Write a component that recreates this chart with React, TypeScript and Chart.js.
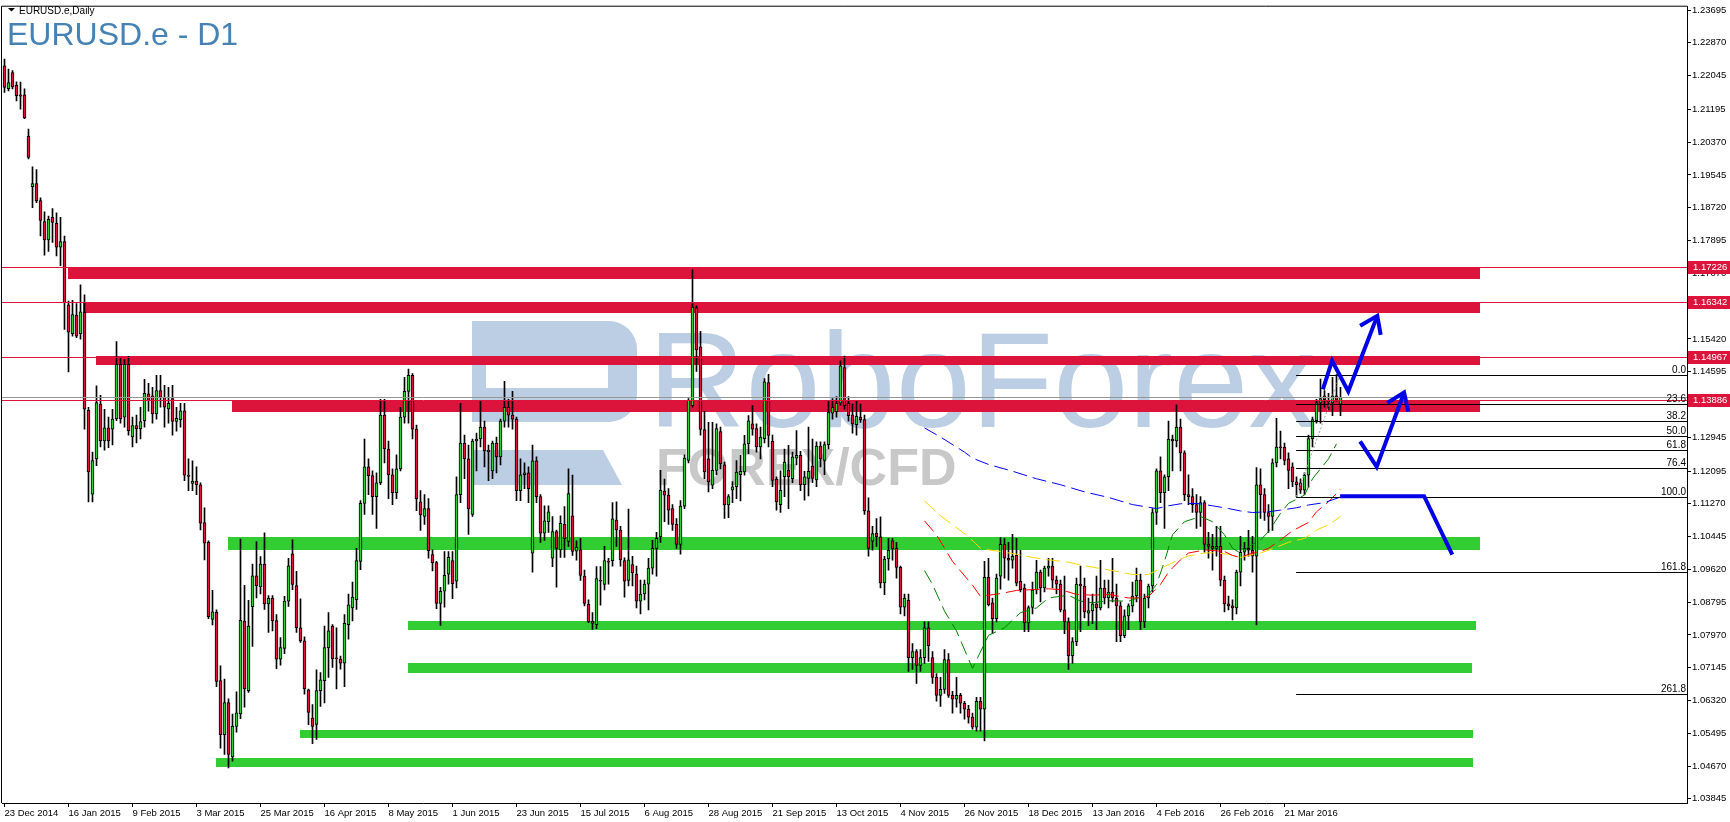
import React, { useEffect, useRef } from "react";
import { Chart, registerables } from "chart.js";
Chart.register(...registerables);

// ---------- DATA ----------
const OPEN = [
  1.2229,1.2172,1.2212,1.2180,1.2156,1.2156,1.2052,1.1925,1.1933,1.1890,
  1.1837,1.1791,1.1848,1.1833,1.1773,1.1787,1.1628,1.1555,1.1602,1.1555,
  1.1609,1.1362,1.1151,1.1240,1.1378,1.1285,1.1318,1.1315,1.1341,1.1478,
  1.1345,1.1478,1.1295,1.1324,1.1316,1.1336,1.1404,1.1399,1.1353,1.1412,
  1.1395,1.1366,1.1392,1.1334,1.1339,1.1361,1.1199,1.1178,1.1184,1.1175,
  1.1080,1.1030,1.0836,1.0854,1.0682,1.0546,1.0627,1.0490,1.0567,1.0598,
  1.0832,1.0657,1.0868,1.0946,1.0918,1.0975,1.0875,1.0889,1.0833,1.0736,
  1.0763,1.0882,1.1001,1.0921,1.0815,1.0782,1.0659,1.0588,1.0572,1.0657,
  1.0682,1.0765,1.0819,1.0738,1.0736,1.0726,1.0823,1.0865,1.0886,1.0982,
  1.1128,1.1220,1.1198,1.1145,1.1180,1.1350,1.1265,1.1200,1.1155,1.1215,
  1.1345,1.1410,1.1450,1.1315,1.1132,1.1095,1.1115,1.0999,1.0979,1.0876,
  1.0907,1.0950,1.0984,1.0932,1.1150,1.1280,1.1240,1.1100,1.1285,1.1290,
  1.1320,1.1262,1.1210,1.1280,1.1245,1.1335,1.1370,1.1350,1.1340,1.1160,
  1.1200,1.1205,1.1003,1.1235,1.1145,1.1053,1.1082,1.0990,1.1057,1.1011,
  1.1075,1.1032,1.1097,1.1008,1.1011,1.0945,1.0874,1.0832,1.0823,1.0933,
  1.0924,1.0981,1.0984,1.1086,1.1061,1.0984,1.0934,1.0974,1.0950,1.0882,
  1.0900,1.0925,1.0965,1.1015,1.1044,1.1159,1.1149,1.1115,1.1075,1.1025,
  1.1121,1.1236,1.1374,1.1620,1.1522,1.1314,1.1240,1.1174,1.1211,1.1309,
  1.1225,1.1124,1.1162,1.1170,1.1200,1.1207,1.1278,1.1328,1.1316,1.1270,
  1.1291,1.1432,1.1284,1.1189,1.1125,1.1195,1.1211,1.1190,1.1242,1.1249,
  1.1175,1.1191,1.1222,1.1187,1.1272,1.1236,1.1276,1.1355,1.1359,1.1380,
  1.1470,1.1380,1.1351,1.1326,1.1345,1.1339,1.1109,1.1033,1.1053,1.1044,
  1.0928,1.0988,1.1034,1.1015,1.0967,1.0867,1.0884,1.0740,1.0755,1.0720,
  1.0740,1.0815,1.0740,1.0690,1.0645,1.0660,1.0735,1.0645,1.0635,1.0645,
  1.0625,1.0610,1.0590,1.0565,1.0630,1.0610,1.0942,1.0878,1.0838,1.0945,
  1.1025,1.0990,1.0985,1.0997,1.0932,1.0915,1.0827,1.0866,1.0910,1.0955,
  1.0915,1.0965,1.0970,1.0935,1.0925,1.0860,1.0830,1.0745,1.0780,1.0925,
  1.0920,1.0852,1.0858,1.0875,1.0865,1.0915,1.0890,1.0905,1.0890,1.0870,
  1.0795,1.0845,1.0870,1.0895,1.0935,1.0830,1.0890,1.0920,1.1105,1.1210,
  1.1155,1.1195,1.1290,1.1285,1.1320,1.1255,1.1150,1.1145,1.1125,1.1105,
  1.1130,1.1025,1.1020,1.1015,1.1020,1.0935,1.0875,1.0870,1.0865,1.0955,
  1.1005,1.1015,1.1010,1.0995,1.1175,1.1150,1.1105,1.1095,1.1230,1.1270,
  1.1270,1.1240,1.1220,1.1182,1.1180,1.1161,1.1199,1.1291,1.1336,1.1381,
  1.1399,1.1386,1.1381,1.1399,1.1378,
];
const HIGH = [
  1.2246,1.2221,1.2217,1.2189,1.2188,1.2171,1.2070,1.1975,1.1968,1.1897,
  1.1862,1.1851,1.1870,1.1859,1.1848,1.1801,1.1637,1.1639,1.1631,1.1678,
  1.1653,1.1370,1.1257,1.1424,1.1400,1.1365,1.1345,1.1365,1.1535,1.1495,
  1.1490,1.1498,1.1345,1.1350,1.1370,1.1440,1.1430,1.1420,1.1450,1.1450,
  1.1425,1.1420,1.1425,1.1370,1.1380,1.1380,1.1240,1.1235,1.1220,1.1180,
  1.1117,1.1034,1.0909,1.0860,1.0719,1.0686,1.0636,1.0598,1.0654,1.1038,
  1.0922,1.0884,1.0975,1.1032,1.0994,1.1054,1.0896,1.0896,1.0848,1.0790,
  1.0894,1.0990,1.1036,1.0957,1.0888,1.0792,1.0661,1.0622,1.0709,1.0702,
  1.0819,1.0853,1.0823,1.0815,1.0744,1.0848,1.0900,1.0930,1.1015,1.1135,
  1.1290,1.1240,1.1210,1.1205,1.1390,1.1390,1.1285,1.1215,1.1250,1.1370,
  1.1445,1.1466,1.1455,1.1325,1.1160,1.1150,1.1140,1.1011,1.0982,1.0917,
  1.1007,1.1007,1.1007,1.1195,1.1380,1.1300,1.1275,1.1290,1.1305,1.1385,
  1.1335,1.1275,1.1285,1.1295,1.1340,1.1435,1.1390,1.1410,1.1345,1.1240,
  1.1230,1.1220,1.1275,1.1245,1.1150,1.1122,1.1122,1.1095,1.1061,1.1097,
  1.1120,1.1215,1.1199,1.1034,1.1040,1.0960,1.0885,1.0853,1.0969,1.0969,
  1.1020,1.0990,1.1130,1.1132,1.1070,1.0991,1.1114,1.0995,1.0970,1.0935,
  1.0935,1.0990,1.1035,1.1055,1.1211,1.1189,1.1165,1.1125,1.1090,1.1135,
  1.1250,1.1392,1.1716,1.1625,1.1561,1.1360,1.1332,1.1332,1.1328,1.1320,
  1.1232,1.1150,1.1183,1.1236,1.1249,1.1299,1.1349,1.1374,1.1328,1.1320,
  1.1442,1.1453,1.1300,1.1195,1.1210,1.1265,1.1274,1.1257,1.1311,1.1259,
  1.1209,1.1320,1.1290,1.1283,1.1283,1.1283,1.1386,1.1392,1.1397,1.1487,
  1.1499,1.1397,1.1378,1.1386,1.1378,1.1350,1.1142,1.1070,1.1090,1.1094,
  1.0995,1.1040,1.1040,1.1030,1.0970,1.0900,1.0900,1.0775,1.0760,1.0760,
  1.0830,1.0830,1.0755,1.0700,1.0690,1.0760,1.0750,1.0655,1.0690,1.0650,
  1.0630,1.0620,1.0600,1.0640,1.0640,1.0982,1.0990,1.0890,1.0950,1.1042,
  1.1040,1.1030,1.1050,1.1040,1.1010,1.0925,1.0870,1.0930,1.0985,1.0960,
  1.0970,1.0990,1.0990,1.0945,1.0935,1.0945,1.0840,1.0790,1.0940,1.0970,
  1.0940,1.0890,1.0900,1.0945,1.0985,1.0935,1.0935,1.0990,1.0925,1.0880,
  1.0860,1.0875,1.0930,1.0965,1.0950,1.0900,1.0925,1.1115,1.1215,1.1245,
  1.1200,1.1335,1.1300,1.1376,1.1340,1.1260,1.1200,1.1165,1.1150,1.1145,
  1.1135,1.1055,1.1050,1.1070,1.1070,1.0945,1.0895,1.0885,1.0960,1.1045,
  1.1030,1.1060,1.1045,1.1218,1.1215,1.1165,1.1125,1.1240,1.1342,1.1310,
  1.1280,1.1255,1.1230,1.1195,1.1190,1.1205,1.1300,1.1345,1.1390,1.1441,
  1.1412,1.1405,1.1445,1.1452,1.1420,
];
const LOW = [
  1.2162,1.2166,1.2171,1.2141,1.2120,1.2096,1.1995,1.1872,1.1885,1.1801,
  1.1753,1.1762,1.1785,1.1751,1.1726,1.1566,1.1459,1.1549,1.1545,1.1541,
  1.1315,1.1132,1.1132,1.1223,1.1270,1.1262,1.1268,1.1275,1.1336,1.1330,
  1.1320,1.1300,1.1270,1.1280,1.1290,1.1320,1.1360,1.1330,1.1340,1.1370,
  1.1320,1.1330,1.1300,1.1310,1.1320,1.1185,1.1160,1.1160,1.1150,1.1061,
  1.0986,1.0838,1.0822,1.0667,1.0512,1.0496,1.0462,1.0479,1.0552,1.0586,
  1.0615,1.0652,1.0768,1.0890,1.0900,1.0861,1.0803,1.0807,1.0712,1.0721,
  1.0750,1.0869,1.0911,1.0803,1.0778,1.0648,1.0571,1.0523,1.0534,1.0617,
  1.0626,1.0690,1.0715,1.0661,1.0711,1.0667,1.0786,1.0832,1.0861,1.0961,
  1.1100,1.1150,1.1100,1.1065,1.1175,1.1230,1.1140,1.1125,1.1140,1.1210,
  1.1330,1.1330,1.1290,1.1110,1.1060,1.1075,1.0990,1.0958,1.0863,1.0821,
  1.0867,1.0925,1.0888,1.0915,1.1130,1.1190,1.1050,1.1095,1.1210,1.1270,
  1.1220,1.1185,1.1190,1.1205,1.1225,1.1320,1.1320,1.1315,1.1135,1.1135,
  1.1165,1.1130,1.0955,1.1130,1.1030,1.1035,1.1055,1.0969,1.0917,1.0992,
  1.0992,1.1020,1.0997,1.0985,1.0934,1.0870,1.0828,1.0811,1.0813,1.0872,
  1.0910,1.0925,1.0970,1.1020,1.0970,1.0892,1.0920,1.0920,1.0865,1.0850,
  1.0885,1.0860,1.0950,1.0945,1.1030,1.1082,1.1075,1.1060,1.1015,1.1000,
  1.1115,1.1230,1.1370,1.1460,1.1300,1.1190,1.1157,1.1165,1.1200,1.1215,
  1.1090,1.1092,1.1130,1.1140,1.1134,1.1199,1.1253,1.1300,1.1257,1.1240,
  1.1280,1.1270,1.1170,1.1111,1.1105,1.1145,1.1115,1.1180,1.1225,1.1160,
  1.1136,1.1147,1.1180,1.1170,1.1220,1.1200,1.1265,1.1340,1.1345,1.1375,
  1.1365,1.1335,1.1305,1.1300,1.1332,1.1100,1.0995,1.1010,1.1020,1.0915,
  1.0898,1.0960,1.0985,1.0940,1.0850,1.0845,1.0705,1.0710,1.0675,1.0705,
  1.0725,1.0730,1.0675,1.0630,1.0617,1.0650,1.0640,1.0600,1.0615,1.0600,
  1.0585,1.0575,1.0560,1.0555,1.0555,1.0530,1.0870,1.0800,1.0830,1.0912,
  1.0940,1.0935,1.0965,1.0920,1.0905,1.0805,1.0805,1.0850,1.0900,1.0880,
  1.0905,1.0945,1.0915,1.0900,1.0855,1.0800,1.0710,1.0725,1.0770,1.0805,
  1.0840,1.0820,1.0825,1.0810,1.0860,1.0875,1.0865,1.0880,1.0780,1.0780,
  1.0790,1.0810,1.0855,1.0880,1.0810,1.0815,1.0865,1.0905,1.1075,1.1130,
  1.1065,1.1160,1.1210,1.1270,1.1210,1.1135,1.1125,1.1105,1.1065,1.1070,
  1.1005,1.0990,1.0960,1.0995,1.0920,1.0855,1.0860,1.0835,1.0850,1.0920,
  1.0985,1.0995,1.0955,1.0822,1.1090,1.1085,1.1055,1.1060,1.1220,1.1240,
  1.1225,1.1165,1.1170,1.1145,1.1153,1.1150,1.1169,1.1270,1.1330,1.1330,
  1.1370,1.1364,1.1349,1.1385,1.1349,
];
const CLOSE = [
  1.2175,1.2187,1.2176,1.2154,1.2153,1.2098,1.1999,1.1933,1.1889,1.1840,
  1.1791,1.1843,1.1835,1.1773,1.1787,1.1633,1.1559,1.1603,1.1549,1.1610,
  1.1365,1.1207,1.1236,1.1382,1.1285,1.1318,1.1285,1.1340,1.1478,1.1341,
  1.1478,1.1311,1.1324,1.1316,1.1334,1.1405,1.1387,1.1353,1.1412,1.1395,
  1.1370,1.1380,1.1334,1.1342,1.1361,1.1199,1.1196,1.1184,1.1175,1.1078,
  1.1028,1.0843,1.0855,1.0680,1.0546,1.0627,1.0496,1.0567,1.0601,1.0834,
  1.0661,1.0819,1.0946,1.0921,1.0975,1.0875,1.0889,1.0833,1.0736,1.0765,
  1.0882,1.0971,1.0924,1.0815,1.0782,1.0661,1.0602,1.0567,1.0657,1.0684,
  1.0765,1.0807,1.0737,1.0737,1.0726,1.0826,1.0873,1.0892,1.0984,1.1128,
  1.1220,1.1198,1.1145,1.1180,1.1350,1.1265,1.1200,1.1155,1.1215,1.1345,
  1.1410,1.1450,1.1315,1.1140,1.1099,1.1115,1.1009,1.0979,1.0876,1.0907,
  1.0947,1.0992,1.0926,1.1150,1.1280,1.1240,1.1114,1.1285,1.1290,1.1320,
  1.1260,1.1258,1.1280,1.1245,1.1335,1.1370,1.1350,1.1340,1.1160,1.1200,
  1.1205,1.1165,1.1235,1.1145,1.1053,1.1084,1.1107,1.1057,1.1015,1.1078,
  1.1039,1.1153,1.1007,1.1018,1.0947,1.0876,1.0830,1.0826,1.0939,1.0932,
  1.0984,1.0980,1.1089,1.1061,1.0986,1.0932,1.0986,1.0953,1.0882,1.0900,
  1.0925,1.0965,1.1015,1.1040,1.1161,1.1149,1.1111,1.1075,1.1025,1.1121,
  1.1242,1.1388,1.1622,1.1514,1.1314,1.1207,1.1182,1.1211,1.1316,1.1228,
  1.1124,1.1145,1.1170,1.1207,1.1209,1.1278,1.1336,1.1315,1.1270,1.1295,
  1.1434,1.1299,1.1186,1.1132,1.1161,1.1232,1.1195,1.1245,1.1249,1.1175,
  1.1195,1.1209,1.1191,1.1272,1.1240,1.1276,1.1357,1.1370,1.1380,1.1474,
  1.1374,1.1349,1.1328,1.1347,1.1339,1.1109,1.1015,1.1052,1.1044,1.0928,
  1.0988,1.1010,1.1014,1.0967,1.0867,1.0890,1.0740,1.0755,1.0720,1.0740,
  1.0815,1.0770,1.0690,1.0645,1.0660,1.0735,1.0645,1.0635,1.0645,1.0625,
  1.0610,1.0590,1.0565,1.0630,1.0610,1.0942,1.0873,1.0838,1.0940,1.1025,
  1.0990,1.0985,1.0995,1.0927,1.0911,1.0827,1.0866,1.0910,1.0955,1.0915,
  1.0965,1.0970,1.0935,1.0925,1.0860,1.0830,1.0745,1.0780,1.0925,1.0920,
  1.0855,1.0858,1.0875,1.0865,1.0915,1.0890,1.0905,1.0890,1.0870,1.0795,
  1.0845,1.0870,1.0895,1.0935,1.0830,1.0890,1.0920,1.1105,1.1210,1.1155,
  1.1195,1.1290,1.1285,1.1320,1.1255,1.1150,1.1145,1.1125,1.1105,1.1130,
  1.1025,1.1020,1.1015,1.1020,1.0935,1.0875,1.0870,1.0865,1.0955,1.1005,
  1.1015,1.1010,1.0995,1.1175,1.1150,1.1105,1.1095,1.1230,1.1270,1.1268,
  1.1236,1.1211,1.1182,1.1175,1.1161,1.1199,1.1291,1.1339,1.1381,1.1392,
  1.1389,1.1384,1.1399,1.1388,1.1395,
];

const TICK_BARS = [0,16,32,48,64,80,96,112,128,144,160,176,192,208,224,240,256,272,288,304,320];
const TICK_LABELS = [
  "23 Dec 2014","16 Jan 2015","9 Feb 2015","3 Mar 2015","25 Mar 2015","16 Apr 2015",
  "8 May 2015","1 Jun 2015","23 Jun 2015","15 Jul 2015","6 Aug 2015","28 Aug 2015",
  "21 Sep 2015","13 Oct 2015","4 Nov 2015","26 Nov 2015","18 Dec 2015","13 Jan 2016",
  "4 Feb 2016","26 Feb 2016","21 Mar 2016",
];
const PRICE_TICKS = [
  1.23695,1.22870,1.22045,1.21195,1.20370,1.19545,1.18720,1.17895,1.17070,1.16245,
  1.15420,1.14595,1.13770,1.12945,1.12095,1.11270,1.10445,1.09620,1.08795,1.07970,
  1.07145,1.06320,1.05495,1.04670,1.03845,
];

// moving averages: [bar, price]
const BLUE_MA = [[230,1.1318],[234,1.1295],[240,1.1257],[242,1.1242],[246,1.1226],[252,1.1209],[258,1.1190],[264,1.1175],[270,1.1157],[276,1.1143],[282,1.1125],[288,1.1115],[291,1.1122],[294,1.1127],[298,1.1128],[302,1.1122],[306,1.1115],[309,1.1109],[312,1.1105],[316,1.1107],[319,1.1111],[323,1.1117],[326,1.1124],[330,1.1130],[334,1.1144]];
const RED_MA = [[230,1.1084],[233,1.1049],[237,1.0982],[242,1.0922],[244,1.0894],[249,1.0901],[253,1.0909],[257,1.0911],[261,1.0913],[264,1.0911],[268,1.0899],[272,1.0897],[276,1.0899],[281,1.0890],[284,1.0890],[286,1.0894],[289,1.0924],[291,1.0955],[294,1.0986],[296,1.1003],[300,1.1011],[305,1.1007],[307,1.0997],[309,1.0992],[311,1.1000],[314,1.1007],[316,1.1015],[319,1.1036],[322,1.1059],[326,1.1080],[328,1.1107],[331,1.1132],[334,1.1164]];
const YELLOW_MA = [[230,1.1134],[234,1.1097],[241,1.1044],[244,1.1015],[246,1.1011],[249,1.1007],[253,1.1000],[257,1.0992],[261,1.0986],[266,1.0980],[270,1.0971],[274,1.0964],[278,1.0957],[282,1.0949],[286,1.0949],[290,1.0969],[294,1.0988],[296,1.0996],[300,1.1003],[302,1.1004],[306,1.1000],[309,1.0992],[311,1.0997],[314,1.1003],[317,1.1014],[321,1.1030],[325,1.1040],[328,1.1061],[331,1.1074],[334,1.1095]];
const GREEN_MA = [[230,1.0959],[232,1.0924],[235,1.0857],[238,1.0807],[242,1.0713],[246,1.0796],[250,1.0815],[254,1.0853],[258,1.0865],[261,1.0890],[266,1.0897],[269,1.0882],[272,1.0878],[276,1.0883],[281,1.0882],[286,1.0899],[288,1.0924],[290,1.0982],[292,1.1049],[295,1.1082],[299,1.1095],[302,1.1082],[305,1.1049],[307,1.1015],[309,1.1003],[311,1.1019],[314,1.1036],[316,1.1057],[319,1.1103],[321,1.1128],[325,1.1149],[327,1.1190],[331,1.1240],[333,1.1278]];

// resistance / support zones: [fromBar, toBar, topPrice, bottomPrice]
const RED_ZONES = [
  [15.9, 368.9, 1.17226, 1.16935],
  [19.6, 368.9, 1.16342, 1.16058],
  [22.9, 368.9, 1.14980, 1.14756],
  [56.9, 368.9, 1.13848, 1.13572],
];
const GREEN_ZONES = [
  [55.9, 368.9, 1.10444, 1.10127],
  [100.9, 367.9, 1.08317, 1.08100],
  [100.9, 366.9, 1.07266, 1.07023],
  [73.9, 367.1, 1.05589, 1.05397],
  [52.9, 367.1, 1.04871, 1.04646],
];
const LEVEL_LINES = [1.17226, 1.16342, 1.14967, 1.13886];
const BID_LINE = 1.13945;

// Fibonacci
const FIB_LOW = 1.11445;
const FIB_HIGH = 1.14516;
const FIB_FROM_BAR = 322.9;
const FIB_TO_BAR = 333.9;
const FIB_RATIOS = [0, 23.6, 38.2, 50.0, 61.8, 76.4, 100.0, 161.8, 261.8];

// projection arrows: [bar, price]
const ARROW_A = [[329.6,1.1415],[331.9,1.1487],[335.95,1.1410],[343.2,1.1600]];
const ARROW_A_HEAD = [[338.9,1.1575],[343.2,1.1600],[344.05,1.1552]];
const ARROW_B = [[338.9,1.1284],[343.05,1.1220],[349.9,1.1407]];
const ARROW_B_HEAD = [[345.7,1.1381],[349.9,1.1407],[350.95,1.1359]];
const ARROW_C = [[333.9,1.1146],[354.9,1.1146],[361.95,1.0999]];

// ---------- LAYOUT CONSTANTS ----------
const W = 1730, H = 822;
const X_MIN = -0.625, X_MAX = 420.625;
const Y_MIN = 1.0374, Y_MAX = 1.2378;
const FONT = '"Liberation Sans", Arial, sans-serif';
const CRIMSON = "#DC143C";
const LIME = "#32CD32";

const overlay = {
  id: "overlay",
  beforeDatasetsDraw(chart: any) {
    const { ctx, chartArea: a, scales } = chart;
    const x = scales.x, y = scales.y;
    ctx.save();
    ctx.beginPath();
    ctx.rect(a.left, a.top, a.right - a.left, a.bottom - a.top);
    ctx.clip();
    // watermark logo
    ctx.fillStyle = "rgb(188,206,228)";
    ctx.beginPath();
    ctx.moveTo(472, 321);
    ctx.lineTo(609, 321);
    ctx.arcTo(637, 321, 637, 349, 28);
    ctx.lineTo(637, 394);
    ctx.arcTo(637, 422, 609, 422, 28);
    ctx.lineTo(472, 422);
    ctx.closePath();
    ctx.fill();
    ctx.fillStyle = "#ffffff";
    ctx.fillRect(486, 363, 122, 25);
    ctx.fillStyle = "rgb(188,206,228)";
    ctx.beginPath();
    ctx.moveTo(472, 450);
    ctx.lineTo(603, 450);
    ctx.lineTo(622, 485);
    ctx.lineTo(472, 485);
    ctx.closePath();
    ctx.fill();
    ctx.font = `135px ${FONT}`;
    ctx.textBaseline = "alphabetic";
    ctx.textAlign = "left";
    ctx.fillText("RoboForex", 648, 427);
    ctx.fillStyle = "rgb(200,200,200)";
    ctx.font = `bold 52px ${FONT}`;
    ctx.fillText("FOREX/CFD", 656, 485);
    // zones
    const zone = (z: number[], color: string) => {
      const x0 = x.getPixelForValue(z[0]);
      const x1 = x.getPixelForValue(z[1]);
      const y0 = y.getPixelForValue(z[2]);
      const y1 = y.getPixelForValue(z[3]);
      ctx.fillStyle = color;
      ctx.fillRect(Math.round(x0), Math.round(y0), Math.round(x1 - x0), Math.round(y1 - y0));
    };
    RED_ZONES.forEach((z) => zone(z, CRIMSON));
    GREEN_ZONES.forEach((z) => zone(z, LIME));
    ctx.restore();
  },
  afterDatasetsDraw(chart: any) {
    const { ctx, chartArea: a, scales } = chart;
    const x = scales.x, y = scales.y;
    const cy = (p: number) => Math.round(y.getPixelForValue(p)) + 0.5;
    ctx.save();
    ctx.beginPath();
    ctx.rect(a.left, a.top, a.right - a.left, a.bottom - a.top);
    ctx.clip();
    ctx.lineWidth = 1;
    // horizontal level lines
    ctx.strokeStyle = "rgb(150,150,150)";
    ctx.beginPath();
    ctx.moveTo(a.left, cy(BID_LINE));
    ctx.lineTo(a.right, cy(BID_LINE));
    ctx.stroke();
    ctx.strokeStyle = CRIMSON;
    LEVEL_LINES.forEach((p) => {
      ctx.beginPath();
      ctx.moveTo(a.left, cy(p));
      ctx.lineTo(a.right, cy(p));
      ctx.stroke();
    });
    // fibonacci
    const range = FIB_HIGH - FIB_LOW;
    const fx0 = x.getPixelForValue(FIB_FROM_BAR);
    ctx.strokeStyle = "#000";
    ctx.fillStyle = "#000";
    ctx.font = `10px ${FONT}`;
    ctx.textAlign = "right";
    ctx.textBaseline = "alphabetic";
    FIB_RATIOS.forEach((r) => {
      const p = FIB_HIGH - (r / 100) * range;
      const py = cy(p);
      ctx.beginPath();
      ctx.moveTo(fx0, py);
      ctx.lineTo(a.right, py);
      ctx.stroke();
      ctx.fillText(r.toFixed(1), a.right - 1, py - 2.5);
    });
    ctx.strokeStyle = "rgb(160,160,160)";
    ctx.setLineDash([2, 2]);
    ctx.beginPath();
    ctx.moveTo(fx0, y.getPixelForValue(FIB_LOW));
    ctx.lineTo(x.getPixelForValue(FIB_TO_BAR), y.getPixelForValue(FIB_HIGH));
    ctx.stroke();
    ctx.setLineDash([]);
    // arrows
    ctx.strokeStyle = "#0000E6";
    ctx.lineWidth = 4;
    ctx.lineJoin = "miter";
    ctx.lineCap = "butt";
    const poly = (pts: number[][]) => {
      ctx.beginPath();
      pts.forEach((pt, i) => {
        const px = x.getPixelForValue(pt[0]);
        const py = y.getPixelForValue(pt[1]);
        if (i === 0) ctx.moveTo(px, py);
        else ctx.lineTo(px, py);
      });
      ctx.stroke();
    };
    [ARROW_A, ARROW_A_HEAD, ARROW_B, ARROW_B_HEAD, ARROW_C].forEach(poly);
    ctx.restore();
  },
  afterDraw(chart: any) {
    const { ctx, chartArea: a, scales } = chart;
    const y = scales.y;
    ctx.save();
    // frame left/top
    ctx.strokeStyle = "#000";
    ctx.lineWidth = 1;
    ctx.beginPath();
    ctx.moveTo(a.left - 0.5, a.bottom);
    ctx.lineTo(a.left - 0.5, a.top - 0.5);
    ctx.lineTo(a.right, a.top - 0.5);
    ctx.stroke();
    // price boxes on axis
    ctx.font = `9.5px ${FONT}`;
    ctx.textAlign = "left";
    ctx.textBaseline = "middle";
    LEVEL_LINES.forEach((p) => {
      const py = Math.round(y.getPixelForValue(p));
      ctx.fillStyle = CRIMSON;
      ctx.fillRect(a.right + 1, py - 6, W - a.right - 1, 13);
      ctx.fillStyle = "#fff";
      ctx.fillText(p.toFixed(5), a.right + 6, py + 0.5);
    });
    // headers
    ctx.fillStyle = "#000";
    ctx.beginPath();
    ctx.moveTo(8, 8);
    ctx.lineTo(15, 8);
    ctx.lineTo(11.5, 11.5);
    ctx.closePath();
    ctx.fill();
    ctx.font = `10px ${FONT}`;
    ctx.textBaseline = "alphabetic";
    ctx.fillText("EURUSD.e,Daily", 19, 14);
    ctx.fillStyle = "#4682B4";
    ctx.font = `32px ${FONT}`;
    ctx.fillText("EURUSD.e - D1", 7, 45);
    ctx.restore();
  },
};

export default function App() {
  const ref = useRef<HTMLCanvasElement>(null);
  useEffect(() => {
    const idx = OPEN.map((_, i) => i);
    const colors = idx.map((i) => (CLOSE[i] >= OPEN[i] ? LIME : CRIMSON));
    const maSet = (data: number[][], color: string) => ({
      type: "line" as const,
      data: data.map(([bx, p]) => ({ x: bx, y: p })),
      borderColor: color,
      borderWidth: 1,
      borderDash: [14, 6],
      pointRadius: 0,
      fill: false,
      tension: 0,
      order: -1,
    });
    const chart = new Chart(ref.current as HTMLCanvasElement, {
      type: "bar",
      data: {
        datasets: [
          maSet(BLUE_MA, "#0000FF"),
          maSet(RED_MA, "#FF0000"),
          maSet(YELLOW_MA, "#FFD700"),
          maSet(GREEN_MA, "#008000"),
          {
            type: "bar",
            data: idx.map((i) => ({ x: i, y: [OPEN[i], CLOSE[i]] })),
            backgroundColor: colors,
            borderColor: "#000",
            borderWidth: 1,
            borderSkipped: false,
            barThickness: 3,
            minBarLength: 1,
            grouped: false,
            order: 0,
          } as any,
          {
            type: "bar",
            data: idx.map((i) => ({ x: i, y: [LOW[i], HIGH[i]] })),
            backgroundColor: "#000",
            borderWidth: 0,
            barThickness: 1,
            grouped: false,
            order: 1,
          } as any,
        ],
      },
      options: {
        animation: false,
        responsive: false,
        devicePixelRatio: 1,
        events: [],
        layout: { padding: { left: 2, top: 2, right: 0, bottom: 0 } },
        plugins: { legend: { display: false }, tooltip: { enabled: false } },
        scales: {
          x: {
            type: "linear",
            position: "bottom",
            min: X_MIN,
            max: X_MAX,
            offset: false,
            afterBuildTicks: (s: any) => {
              s.ticks = TICK_BARS.map((v) => ({ value: v }));
            },
            afterFit: (s: any) => {
              s.height = 19;
            },
            ticks: {
              autoSkip: false,
              maxRotation: 0,
              minRotation: 0,
              align: "start",
              padding: 1,
              color: "#000",
              font: { family: FONT, size: 9.5 },
              callback: (_v: any, i: number) => TICK_LABELS[i] ?? "",
            },
            grid: { drawOnChartArea: false, drawTicks: true, tickLength: 4, color: "#000", offset: false },
            border: { display: true, color: "#000", width: 1 },
          },
          y: {
            type: "linear",
            position: "right",
            min: Y_MIN,
            max: Y_MAX,
            afterBuildTicks: (s: any) => {
              s.ticks = PRICE_TICKS.map((v) => ({ value: v }));
            },
            afterFit: (s: any) => {
              s.width = 43;
            },
            ticks: {
              padding: 1,
              color: "#000",
              font: { family: FONT, size: 9.5 },
              callback: (v: any) => Number(v).toFixed(5),
            },
            grid: { drawOnChartArea: false, drawTicks: true, tickLength: 4, color: "#000" },
            border: { display: true, color: "#000", width: 1 },
          },
        },
      } as any,
      plugins: [overlay],
    } as any);
    return () => chart.destroy();
  }, []);
  return (
    <div style={{ position: "absolute", left: 0, top: 0, width: W, height: H, background: "#fff" }}>
      <canvas ref={ref} width={W} height={H} style={{ display: "block", width: W, height: H }} />
    </div>
  );
}
